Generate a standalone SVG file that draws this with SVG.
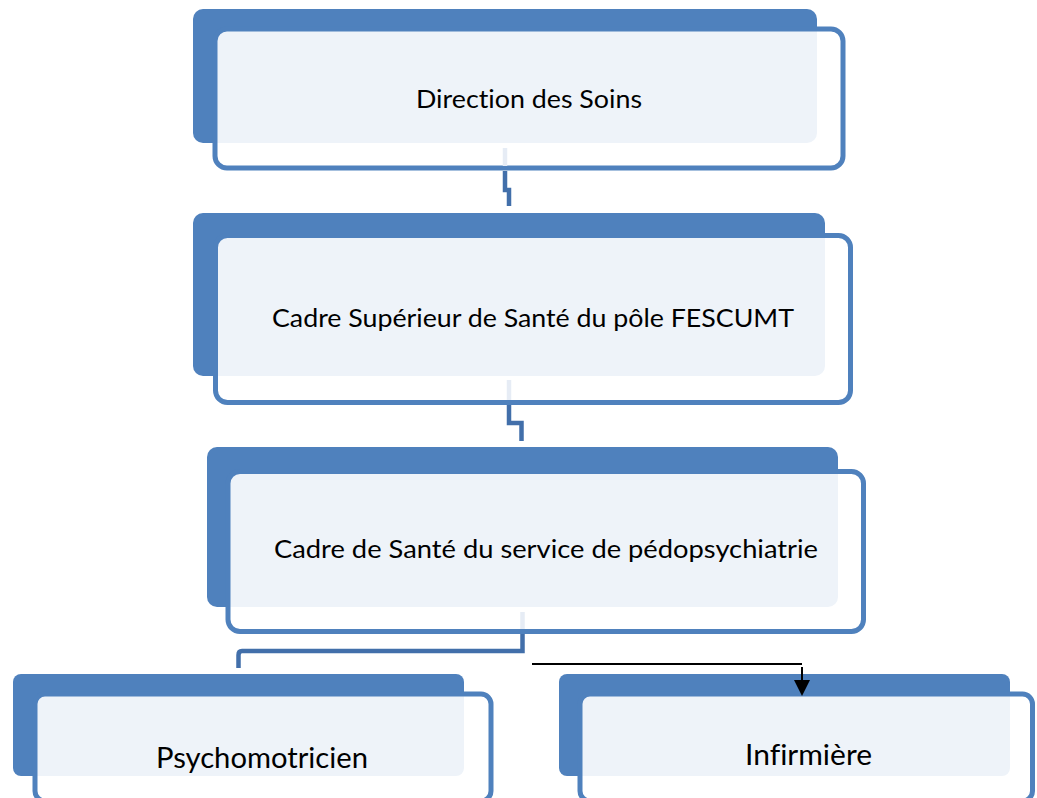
<svg xmlns="http://www.w3.org/2000/svg" width="1037" height="798" viewBox="0 0 1037 798">
<defs>
<style>
.back{fill:#4F81BD;}
.front{fill:#FFFFFF;fill-opacity:0.9;stroke:#4F81BD;stroke-width:5;}
.lbl{font-family:Lato,"Liberation Sans",sans-serif;fill:#000000;text-anchor:middle;font-variant-ligatures:none;font-feature-settings:"liga" 0,"clig" 0,"dlig" 0,"calt" 0;}
.conn{fill:none;stroke:#426FAA;stroke-width:4.5;}
.faint{fill:none;stroke:#E6ECF5;stroke-width:4.5;}
.arr{fill:none;stroke:#000000;stroke-width:2;}
</style>
<marker id="ah" markerUnits="userSpaceOnUse" markerWidth="16" markerHeight="16" refX="0" refY="8" orient="auto" viewBox="0 0 16 16">
<path d="M0,0 L16,8 L0,16 Z" fill="#000000"/>
</marker>
</defs>
<rect width="1037" height="798" fill="#FFFFFF"/>
<g id="node-direction">
<rect class="back" x="193" y="9" width="624" height="134" rx="10"/>
<rect class="front" x="215" y="29" width="628" height="139" rx="12"/>
<text class="lbl" x="529" y="108" font-size="25" textLength="226" lengthAdjust="spacingAndGlyphs">Direction des Soins</text>
</g>
<g id="node-cadre-sup">
<rect class="back" x="193" y="213" width="632" height="163" rx="10"/>
<rect class="front" x="215.5" y="235.5" width="635" height="167" rx="12"/>
<text class="lbl" x="533" y="327" font-size="25" textLength="522" lengthAdjust="spacingAndGlyphs">Cadre Supérieur de Santé du pôle FESCUMT</text>
</g>
<g id="node-cadre-sante">
<rect class="back" x="207" y="447" width="631" height="160" rx="10"/>
<rect class="front" x="228" y="471.5" width="635.5" height="160" rx="12"/>
<text class="lbl" x="546" y="558" font-size="25" textLength="544" lengthAdjust="spacingAndGlyphs">Cadre de Santé du service de pédopsychiatrie</text>
</g>
<g id="node-psychomotricien">
<rect class="back" x="13" y="674" width="451" height="102" rx="8"/>
<rect class="front" x="35" y="694" width="456" height="107" rx="10"/>
<text class="lbl" x="262" y="768" font-size="29" textLength="212" lengthAdjust="spacingAndGlyphs">Psychomotricien</text>
</g>
<g id="node-infirmiere">
<rect class="back" x="559" y="674" width="451" height="102" rx="8"/>
<rect class="front" x="580" y="694" width="452.5" height="107" rx="10"/>
<text class="lbl" x="808.5" y="765" font-size="28" textLength="127" lengthAdjust="spacingAndGlyphs">Infirmière</text>
</g>
<g id="connectors">
<path class="faint" d="M505,148 V166"/>
<path class="conn" d="M505,171 V190 H509 V206"/>
<path class="faint" d="M509,380 V400"/>
<path class="conn" d="M509,405 V423 H521.5 V441"/>
<path class="faint" d="M522.5,612 V629"/>
<path class="conn" d="M522.5,634 V651 H242 Q238.5,651 238.5,655 V668"/>
<path class="arr" d="M532,664 H802"/>
<line x1="802" y1="667" x2="802" y2="680" stroke="#000000" stroke-width="2" marker-end="url(#ah)"/>
</g>
</svg>
